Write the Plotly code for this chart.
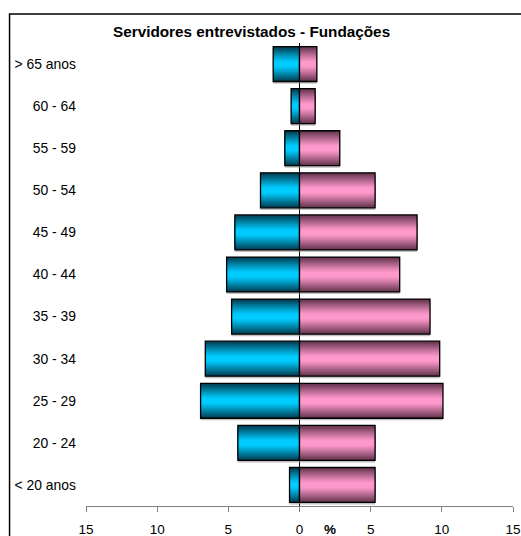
import plotly.graph_objects as go

# Age groups, top to bottom
faixas = ["> 65 anos", "60 - 64", "55 - 59", "50 - 54", "45 - 49", "40 - 44",
          "35 - 39", "30 - 34", "25 - 29", "20 - 24", "< 20 anos"]
# Percentage of interviewed staff per age group
homens = [1.85, 0.59, 1.03, 2.74, 4.54, 5.12, 4.77, 6.62, 6.95, 4.33, 0.70]
mulheres = [1.22, 1.10, 2.83, 5.31, 8.26, 7.04, 9.17, 9.85, 10.08, 5.31, 5.31]

tick_vals = [-15, -10, -5, 0, 5, 10, 15]
tick_text = ["15", "10", "5", "0", "5", "10", "15"]

FONT = "Arial, Liberation Sans, sans-serif"
BAR_W = 0.83
N_LAYERS = 16

# light (centre) and dark (edge) tones for the shaded bars
CYAN_LIGHT, CYAN_DARK = (0, 204, 255), (0, 62, 82)
PINK_LIGHT, PINK_DARK = (255, 153, 204), (100, 52, 78)


def mix(light, dark, t):
    return "rgb({},{},{})".format(*[round(l + (d - l) * t) for l, d in zip(light, dark)])


def shaded_bars(values, light, dark, name):
    xs = values
    traces = []
    # soft drop shadow
    traces.append(go.Bar(x=xs, y=faixas, orientation="h", width=BAR_W, offset=-BAR_W / 2 + 0.05,
                         marker=dict(color="rgba(150,150,150,0.6)", line=dict(width=0)),
                         hoverinfo="skip", showlegend=False))
    # concentric layers give a vertical gradient: dark at the edges, bright in the middle
    for k in range(N_LAYERS):
        w = BAR_W * (1 - k / N_LAYERS)
        d = w / BAR_W  # normalised distance from the bar centre
        t = max(0.0, (d - 0.15) / 0.85) ** 1.1
        traces.append(go.Bar(x=xs, y=faixas, orientation="h", width=w,
                             marker=dict(color=mix(light, dark, t), line=dict(width=0)),
                             hoverinfo="skip", showlegend=False))
    # outline on top
    traces.append(go.Bar(x=xs, y=faixas, orientation="h", width=BAR_W, name=name,
                         marker=dict(color="rgba(0,0,0,0)", line=dict(color="black", width=1.3)),
                         showlegend=False))
    return traces


fig = go.Figure()
for tr in shaded_bars([-v for v in homens], CYAN_LIGHT, CYAN_DARK, "Homens"):
    fig.add_trace(tr)
for tr in shaded_bars(mulheres, PINK_LIGHT, PINK_DARK, "Mulheres"):
    fig.add_trace(tr)

L, R, T, B = 86, 7.7, 43, 29.5
W, H = 521, 536
pw, ph = W - L - R, H - T - B


def px_x(p):
    return (p - L) / pw


def px_y(p):
    return 1 - (p - T) / ph


fig.update_layout(
    width=W, height=H,
    margin=dict(l=L, r=R, t=T, b=B, autoexpand=False),
    barmode="overlay",
    paper_bgcolor="white", plot_bgcolor="white",
    font=dict(family=FONT, size=13.3, color="black"),
    xaxis=dict(range=[-15, 15], tickvals=tick_vals, ticktext=tick_text,
               showgrid=False, showline=True, linecolor="#808080", linewidth=1.3,
               ticks="outside", ticklen=5, tickcolor="#808080", tickwidth=1.3,
               ticklabelstandoff=6, tickfont=dict(size=13.5),
               zeroline=True, zerolinecolor="black", zerolinewidth=1.3,
               layer="above traces", fixedrange=True, automargin=False),
    yaxis=dict(autorange="reversed", showgrid=False, showline=False, zeroline=False,
               ticks="", ticklabelstandoff=9, tickfont=dict(size=13.9),
               fixedrange=True, automargin=False),
    shapes=[dict(type="rect", xref="paper", yref="paper",
                 x0=px_x(9.5), x1=px_x(530), y0=px_y(545), y1=px_y(14),
                 line=dict(color="black", width=1.5), fillcolor="rgba(0,0,0,0)",
                 layer="above")],
    annotations=[
        dict(text="<b>Servidores entrevistados - Fundações</b>", xref="paper", yref="paper",
             x=px_x(251.7), y=px_y(31), xanchor="center", yanchor="middle",
             showarrow=False, font=dict(size=15.3, family=FONT)),
        dict(text="<b>%</b>", xref="x", yref="paper", x=2.13, y=px_y(530),
             xanchor="center", yanchor="middle", showarrow=False,
             font=dict(size=13.5, family=FONT)),
    ],
)

fig.write_html("out.html")
